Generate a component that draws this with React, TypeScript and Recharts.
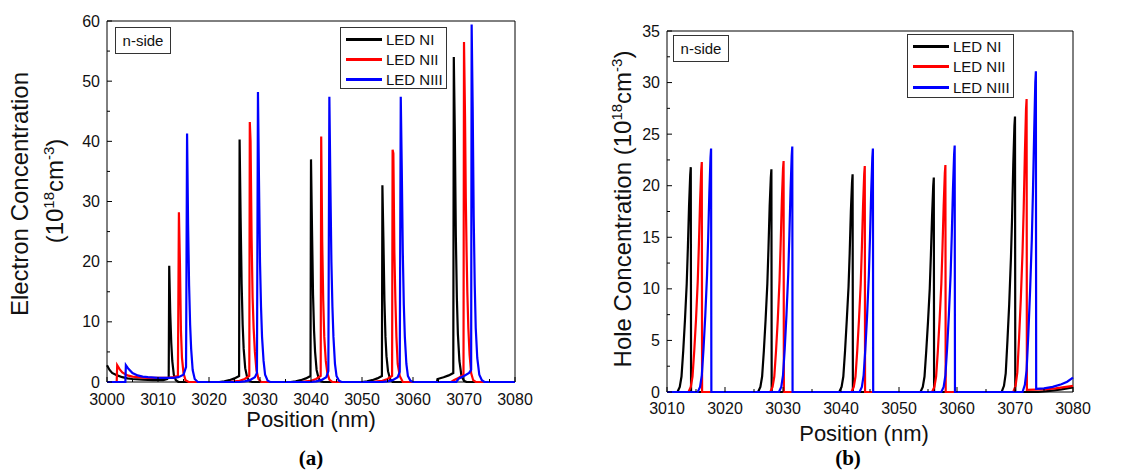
import { Line, LineChart, ReferenceArea, XAxis, YAxis } from "recharts"

type Pt = [number, number]

const seriesNames = ["LED NI", "LED NII", "LED NIII"]
const seriesColors = ["#000000", "#ff0000", "#0000ff"]

// (a) electron concentration, 10^18 cm^-3
const elecNI: Pt[] = [
  [3000, 2.8], [3000.5, 2.0], [3001, 1.5], [3002, 1.1], [3003, 0.8], [3004, 0.6], [3005, 0.5], [3007, 0.4],
  [3009, 0.3], [3011, 0.3], [3011.8, 0.5], [3012.1, 0.8], [3012.2, 19.3], [3012.4, 11.5], [3012.6, 6.5],
  [3012.8, 3.5], [3013.1, 1.2], [3013.5, 0.3], [3014, 0], [3022, 0], [3023, 0.1], [3024, 0.3], [3025, 0.6],
  [3025.9, 1.0], [3026, 40.3], [3026.2, 27.3], [3026.4, 16.3], [3026.6, 9.5], [3026.8, 5.5], [3027.1, 2.3],
  [3027.5, 0.7], [3028, 0.1], [3028.5, 0], [3036, 0], [3037, 0.1], [3038, 0.3], [3039, 0.6], [3039.9, 1.0],
  [3040, 37], [3040.2, 25.3], [3040.4, 14.5], [3040.6, 8.5], [3040.8, 5.0], [3041.1, 2.0], [3041.5, 0.6],
  [3042, 0.1], [3042.5, 0], [3050, 0], [3051, 0.1], [3052, 0.3], [3053, 0.6], [3053.9, 1.0], [3054, 32.7],
  [3054.2, 23.7], [3054.4, 13.5], [3054.6, 7.5], [3054.8, 4.3], [3055.1, 1.8], [3055.5, 0.5], [3056, 0],
  [3064.7, 0], [3064.8, 0.5], [3066, 0.8], [3067, 1.1], [3067.9, 1.5], [3068, 54], [3068.2, 41.5],
  [3068.4, 24.3], [3068.6, 14], [3068.8, 8], [3069.1, 3.5], [3069.5, 1], [3070, 0.2], [3070.5, 0], [3080, 0],
]
const elecNII: Pt[] = [
  [3000, 0], [3001.9, 0], [3002, 2.8], [3002.5, 2.1], [3003, 1.6], [3004, 1.1], [3005, 0.9], [3006, 0.8],
  [3008, 0.7], [3010, 0.7], [3012, 0.7], [3013, 0.8], [3013.9, 1.0], [3014.1, 28.2], [3014.3, 19.8],
  [3014.5, 8.5], [3014.7, 4], [3015, 1.5], [3015.4, 0.3], [3016, 0], [3024, 0], [3025, 0.1], [3026, 0.2],
  [3027, 0.5], [3027.9, 1.0], [3028, 43.2], [3028.15, 40], [3028.35, 24], [3028.55, 14], [3028.75, 9],
  [3029, 5], [3029.3, 2], [3029.7, 0.5], [3030.2, 0], [3038, 0], [3039, 0.1], [3040, 0.2], [3041, 0.5],
  [3041.9, 1.0], [3042, 40.8], [3042.2, 23.3], [3042.4, 13.5], [3042.6, 7.5], [3042.9, 3.5], [3043.2, 1.5],
  [3043.6, 0.4], [3044.2, 0], [3052, 0], [3053, 0.1], [3054, 0.2], [3055, 0.5], [3055.9, 1.0], [3056, 38.6],
  [3056.15, 38], [3056.35, 21.5], [3056.55, 13.5], [3056.75, 7.5], [3057, 3], [3057.4, 1], [3058, 0],
  [3067.5, 0], [3068, 0.3], [3069, 0.7], [3069.9, 1.2], [3070, 56.5], [3070.2, 44.3], [3070.35, 30.7],
  [3070.5, 22], [3070.65, 15], [3070.85, 9], [3071.1, 4.5], [3071.4, 1.5], [3071.8, 0.3], [3072.3, 0], [3080, 0],
]
const elecNIII: Pt[] = [
  [3000, 0], [3003.6, 0], [3003.7, 2.8], [3004.2, 2.2], [3005, 1.5], [3006, 1.1], [3007, 0.9], [3008, 0.8],
  [3010, 0.7], [3012, 0.7], [3013, 0.7], [3014, 0.8], [3015, 1.2], [3015.5, 2.5], [3015.7, 41.3],
  [3015.9, 26.2], [3016.1, 16], [3016.3, 9.5], [3016.5, 5.5], [3016.8, 2], [3017.2, 0.5], [3017.8, 0],
  [3026, 0], [3027, 0.1], [3028, 0.3], [3029, 0.8], [3029.4, 1.5], [3029.6, 48.2], [3029.8, 33.5], [3030, 20],
  [3030.2, 12.5], [3030.4, 7.5], [3030.7, 3.5], [3031, 1.2], [3031.5, 0.2], [3032, 0], [3040, 0], [3041, 0.1],
  [3042, 0.3], [3043, 0.8], [3043.4, 1.8], [3043.6, 47.4], [3043.8, 33], [3044, 20], [3044.2, 12.5],
  [3044.4, 7.5], [3044.7, 3], [3045, 1], [3045.5, 0.2], [3046, 0], [3054, 0], [3055, 0.1], [3056, 0.3],
  [3057, 0.8], [3057.4, 1.7], [3057.6, 47.4], [3057.8, 35.3], [3058, 21.5], [3058.2, 12.8], [3058.4, 7.5],
  [3058.7, 3], [3059, 1], [3059.5, 0.2], [3060, 0], [3068.5, 0], [3069, 0.6], [3070, 1.0], [3071, 1.5],
  [3071.4, 2], [3071.5, 59.4], [3071.7, 45.8], [3071.9, 27.5], [3072.1, 16.3], [3072.3, 9], [3072.6, 4],
  [3073, 1.2], [3073.5, 0.3], [3074, 0], [3080, 0],
]

// (b) hole concentration, 10^18 cm^-3
const holeNI: Pt[] = [
  [3010, 0], [3011.8, 0], [3012.2, 0.5], [3012.5, 1.5], [3012.8, 4], [3013.1, 7], [3013.4, 10.5], [3013.6, 14],
  [3013.8, 18], [3014, 21], [3014.1, 21.8], [3014.15, 0], [3025.7, 0], [3026.1, 0.5], [3026.4, 1.5],
  [3026.7, 4], [3027, 7], [3027.3, 10.5], [3027.5, 14], [3027.7, 18], [3027.9, 20.8], [3028, 21.6],
  [3028.05, 0], [3039.7, 0], [3040.1, 0.5], [3040.4, 1.5], [3040.7, 4], [3041, 7], [3041.3, 10.2],
  [3041.5, 13.5], [3041.7, 17.5], [3041.9, 20.3], [3042, 21.1], [3042.05, 0], [3053.7, 0], [3054.1, 0.5],
  [3054.4, 1.5], [3054.7, 4], [3055, 6.8], [3055.3, 10], [3055.5, 13.3], [3055.7, 17], [3055.9, 20],
  [3056, 20.8], [3056.05, 0], [3067.7, 0], [3068.1, 0.6], [3068.4, 1.8], [3068.7, 5], [3069, 8.5],
  [3069.3, 13], [3069.5, 17], [3069.7, 22], [3069.9, 25.8], [3070, 26.7], [3070.05, 0], [3074, 0],
  [3076, 0.1], [3078, 0.25], [3080, 0.45],
]
const holeNII: Pt[] = [
  [3010, 0], [3013.7, 0], [3014.1, 0.5], [3014.4, 1.5], [3014.7, 4], [3015, 7], [3015.3, 10.7], [3015.5, 14.3],
  [3015.7, 18.4], [3015.9, 21.5], [3016, 22.3], [3016.05, 0], [3027.8, 0], [3028.2, 0.5], [3028.5, 1.5],
  [3028.8, 4], [3029.1, 7], [3029.4, 10.8], [3029.6, 14.4], [3029.8, 18.5], [3030, 21.6], [3030.1, 22.4],
  [3030.15, 0], [3041.8, 0], [3042.2, 0.5], [3042.5, 1.5], [3042.8, 4], [3043.1, 7], [3043.4, 10.5],
  [3043.6, 14], [3043.8, 18], [3044, 21.1], [3044.1, 21.9], [3044.15, 0], [3055.7, 0], [3056.1, 0.5],
  [3056.4, 1.5], [3056.7, 4], [3057, 7], [3057.3, 10.5], [3057.5, 14], [3057.7, 18], [3057.9, 21.2],
  [3058, 22], [3058.05, 0], [3069.7, 0], [3070.1, 0.6], [3070.4, 1.9], [3070.7, 5.2], [3071, 9],
  [3071.3, 13.6], [3071.5, 17.8], [3071.7, 23], [3071.9, 27.4], [3072, 28.4], [3072.05, 0.2], [3075, 0.25],
  [3077, 0.35], [3080, 0.6],
]
const holeNIII: Pt[] = [
  [3010, 0], [3015.3, 0], [3015.7, 0.5], [3016, 1.6], [3016.3, 4.2], [3016.6, 7.4], [3016.9, 11.3],
  [3017.1, 15], [3017.3, 19.3], [3017.5, 22.7], [3017.6, 23.6], [3017.65, 0], [3029.3, 0], [3029.7, 0.5],
  [3030, 1.6], [3030.3, 4.2], [3030.6, 7.5], [3030.9, 11.4], [3031.1, 15.2], [3031.3, 19.5], [3031.5, 22.9],
  [3031.6, 23.8], [3031.65, 0], [3043.2, 0], [3043.6, 0.5], [3043.9, 1.6], [3044.2, 4.2], [3044.5, 7.4],
  [3044.8, 11.3], [3045, 15], [3045.2, 19.3], [3045.4, 22.7], [3045.5, 23.6], [3045.55, 0], [3057.3, 0],
  [3057.7, 0.5], [3058, 1.6], [3058.3, 4.3], [3058.6, 7.5], [3058.9, 11.4], [3059.1, 15.2], [3059.3, 19.6],
  [3059.5, 23], [3059.6, 23.9], [3059.65, 0], [3071.3, 0], [3071.7, 0.7], [3072, 2.1], [3072.3, 5.6],
  [3072.6, 9.8], [3072.9, 14.8], [3073.1, 19.5], [3073.3, 25], [3073.5, 30], [3073.6, 31.1], [3073.65, 0.3],
  [3075, 0.35], [3076.5, 0.5], [3078, 0.75], [3079, 1.0], [3080, 1.4],
]

const elecTicksX = [3000, 3005, 3010, 3015, 3020, 3025, 3030, 3035, 3040, 3045, 3050, 3055, 3060, 3065, 3070, 3075, 3080]
const elecTicksY = [0, 5, 10, 15, 20, 25, 30, 35, 40, 45, 50, 55, 60]
const holeTicksX = [3010, 3015, 3020, 3025, 3030, 3035, 3040, 3045, 3050, 3055, 3060, 3065, 3070, 3075, 3080]
const holeTicksY = [0, 2.5, 5, 7.5, 10, 12.5, 15, 17.5, 20, 22.5, 25, 27.5, 30, 32.5, 35]

const font = "'Liberation Sans', Arial, sans-serif"

const toPts = (a: Pt[]) => a.map(([x, y]) => ({ x, y }))

function XTick(props: any) {
  const { x, y, payload, step, dy } = props
  const major = payload.value % step === 0
  return (
    <g>
      <line x1={x} x2={x} y1={y} y2={y - (major ? 5 : 3)} stroke="#000" />
      {major && (
        <text x={x} y={y + dy} textAnchor="middle" dominantBaseline="central" fontSize={16} fontFamily={font} fill="#111">
          {payload.value}
        </text>
      )}
    </g>
  )
}

function YTick(props: any) {
  const { x, y, payload, step } = props
  const major = payload.value % step === 0
  return (
    <g>
      <line x1={x} x2={x + (major ? 5 : 3)} y1={y} y2={y} stroke="#000" />
      {major && (
        <text x={x - 7} y={y} textAnchor="end" dominantBaseline="central" fontSize={16} fontFamily={font} fill="#111">
          {payload.value}
        </text>
      )}
    </g>
  )
}

function LegendBox({ left, top, rowGap }: { left: number; top: number; rowGap: number }) {
  return (
    <div
      style={{
        position: "absolute", left, top, width: 107, height: rowGap * 3 + 2, border: "1px solid #333",
        background: "#fff", boxSizing: "border-box",
      }}
    >
      {seriesNames.map((n, i) => (
        <div key={n} style={{ position: "absolute", left: 5, top: 11 + i * rowGap - 10, height: 20, display: "flex", alignItems: "center" }}>
          <div style={{ width: 36, height: 3, background: seriesColors[i] }} />
          <span style={{ marginLeft: 4, fontSize: 15, fontFamily: font, color: "#111" }}>{n}</span>
        </div>
      ))}
    </div>
  )
}

function SideBox({ left, top }: { left: number; top: number }) {
  return (
    <div
      style={{
        position: "absolute", left, top, width: 56, height: 27, border: "1px solid #333", boxSizing: "border-box",
        display: "flex", alignItems: "center", justifyContent: "center", fontSize: 15, fontFamily: font,
        background: "#fff", color: "#111",
      }}
    >
      n-side
    </div>
  )
}

function Rotated({ cx, cy, children, size }: { cx: number; cy: number; children: any; size: number }) {
  return (
    <div
      style={{
        position: "absolute", left: cx, top: cy, transform: "translate(-50%, -50%) rotate(-90deg)",
        whiteSpace: "nowrap", fontSize: size, fontFamily: font, lineHeight: 1, color: "#111",
      }}
    >
      {children}
    </div>
  )
}

const supStyle = { fontSize: 15, verticalAlign: "super", lineHeight: 0 } as const

export default function App() {
  const elec = [elecNI, elecNII, elecNIII]
  const hole = [holeNI, holeNII, holeNIII]
  return (
    <div style={{ position: "absolute", left: 0, top: 0, width: 1143, height: 473, background: "#fff", overflow: "hidden" }}>
      <div style={{ position: "absolute", left: 0, top: 0 }}>
        <LineChart width={560} height={473} margin={{ top: 21, right: 45, left: 0, bottom: 0 }}>
          <XAxis
            type="number"
            dataKey="x"
            domain={[3000, 3080]}
            ticks={elecTicksX}
            interval={0}
            height={91}
            tickSize={0}
            tickMargin={0}
            axisLine={false}
            tickLine={false}
            tick={(p: any) => <XTick {...p} step={10} dy={17} />}
          />
          <YAxis
            type="number"
            domain={[0, 60]}
            ticks={elecTicksY}
            interval={0}
            width={107}
            tickSize={0}
            tickMargin={0}
            axisLine={false}
            tickLine={false}
            tick={(p: any) => <YTick {...p} step={10} />}
          />
          <ReferenceArea x1={3000} x2={3080} y1={0} y2={60} fill="none" stroke="#000" strokeWidth={1} />
          {elec.map((s, i) => (
            <Line
              key={seriesNames[i]}
              data={toPts(s)}
              dataKey="y"
              type="linear"
              stroke={seriesColors[i]}
              strokeWidth={2.2}
              dot={false}
              isAnimationActive={false}
            />
          ))}
        </LineChart>
      </div>
      <div style={{ position: "absolute", left: 570, top: 0 }}>
        <LineChart width={545} height={473} margin={{ top: 31, right: 42, left: 0, bottom: 0 }}>
          <XAxis
            type="number"
            dataKey="x"
            domain={[3010, 3080]}
            ticks={holeTicksX}
            interval={0}
            height={81}
            tickSize={0}
            tickMargin={0}
            axisLine={false}
            tickLine={false}
            tick={(p: any) => <XTick {...p} step={10} dy={16} />}
          />
          <YAxis
            type="number"
            domain={[0, 35]}
            ticks={holeTicksY}
            interval={0}
            width={97}
            tickSize={0}
            tickMargin={0}
            axisLine={false}
            tickLine={false}
            tick={(p: any) => <YTick {...p} step={5} />}
          />
          <ReferenceArea x1={3010} x2={3080} y1={0} y2={35} fill="none" stroke="#000" strokeWidth={1} />
          {hole.map((s, i) => (
            <Line
              key={seriesNames[i]}
              data={toPts(s)}
              dataKey="y"
              type="linear"
              stroke={seriesColors[i]}
              strokeWidth={2.2}
              dot={false}
              isAnimationActive={false}
            />
          ))}
        </LineChart>
      </div>

      <SideBox left={115} top={27} />
      <LegendBox left={340} top={27} rowGap={20} />
      <SideBox left={673} top={35} />
      <LegendBox left={907} top={34} rowGap={20.5} />

      <Rotated cx={20} cy={194} size={24}>Electron Concentration</Rotated>
      <Rotated cx={55} cy={191} size={24}>
        (10<span style={supStyle}>18</span>cm<span style={supStyle}>-3</span>)
      </Rotated>
      <Rotated cx={623} cy={209} size={24}>
        Hole Concentration (10<span style={supStyle}>18</span>cm<span style={supStyle}>-3</span>)
      </Rotated>

      <div style={{ position: "absolute", left: 311, top: 420, transform: "translate(-50%, -50%)", fontSize: 22, fontFamily: font, whiteSpace: "nowrap", color: "#111" }}>
        Position (nm)
      </div>
      <div style={{ position: "absolute", left: 864, top: 434, transform: "translate(-50%, -50%)", fontSize: 22, fontFamily: font, whiteSpace: "nowrap", color: "#111" }}>
        Position (nm)
      </div>
      <div style={{ position: "absolute", left: 311, top: 458, transform: "translate(-50%, -50%)", fontSize: 21, fontWeight: "bold", fontFamily: "'Liberation Serif', serif" }}>
        (a)
      </div>
      <div style={{ position: "absolute", left: 848, top: 458, transform: "translate(-50%, -50%)", fontSize: 21, fontWeight: "bold", fontFamily: "'Liberation Serif', serif" }}>
        (b)
      </div>
    </div>
  )
}
